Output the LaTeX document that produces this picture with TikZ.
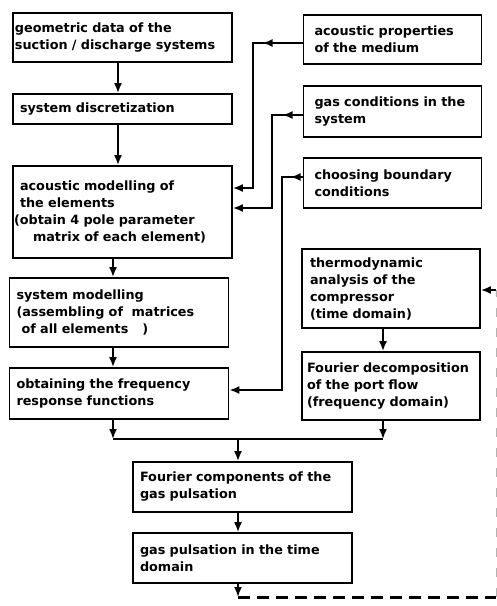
\documentclass[tikz,border=0pt]{standalone}
\usepackage{fontspec}
\setmainfont{DejaVu Sans}
\usetikzlibrary{arrows.meta,positioning,calc,decorations.markings}
\newcommand\boxfont{\bfseries\fontsize{12.8}{17}\selectfont\hyphenpenalty=10000\relax}

\begin{document}
\begin{tikzpicture}[
    x=1pt, y=-1pt,
    block/.style={rectangle, draw, line width=1.8pt, align=left, inner xsep=7pt, inner ysep=2pt,
                  font=\boxfont},
    wide/.style={block, text width=205pt},
    narrow/.style={block, inner xsep=5pt, text width=168pt},
    arrow/.style={-{Latex[length=10pt,width=8pt]}, line width=1.8pt},
    headat/.style={postaction={decorate}, decoration={markings,
                   mark=at position #1 with {\arrow{Latex[length=10pt,width=8pt]}}}}
]
\useasboundingbox (0,0) rectangle (497,606);

% Main chain (left)
\node[wide, inner xsep=2pt, text width=215pt, minimum height=49pt] (geo) at (122.5,37.5)
    {geometric data of the\\suction / discharge systems};
\node[wide, minimum height=30pt] (discr) at (122.5,109) {system discretization};
\node[wide, minimum height=92pt] (acmod) at (122.5,212)
    {acoustic modelling of\\the elements\\\hspace*{-6pt}(obtain 4 pole parameter\\\hspace*{13pt}matrix of each element)};
\node[wide, minimum height=69pt] (sysmod) at (119,312.5)
    {system modelling\\(assembling of~ matrices\\\hspace*{5pt}of all elements\hspace*{14pt})};
\node[wide, minimum height=51pt] (freq) at (119,393.5) {obtaining the frequency\\response functions};

% Inputs (right)
\node[narrow, minimum height=49pt] (props) at (392.5,39.5) {\hspace*{6pt}acoustic properties\\\hspace*{6pt}of the medium};
\node[narrow, minimum height=51pt] (gascond) at (392.5,111.5) {\hspace*{6pt}gas conditions in the\\\hspace*{6pt}system};
\node[narrow, minimum height=50pt] (bound) at (392.5,183) {\hspace*{6pt}choosing boundary\\\hspace*{6pt}conditions};
\node[narrow, minimum height=79pt] (thermo) at (391,288.5)
    {\hspace*{3pt}thermodynamic\\\hspace*{3pt}analysis of the\\\hspace*{3pt}compressor\\\hspace*{3pt}(time domain)};
\node[narrow, minimum height=68pt] (fdecomp) at (391,386)
    {Fourier decomposition\\of the port flow\\(frequency domain)};

% Results
\node[wide, minimum height=50pt] (fcomp) at (242.5,487) {Fourier components of the\\gas pulsation};
\node[wide, minimum height=50pt] (pulse) at (242.5,558) {gas pulsation in the time\\domain};

% Lanes and corners
\coordinate (lane1) at (118,0);
\coordinate (jl) at (113,439);
\coordinate (jr) at (383,439);
\coordinate (jm) at (238,439);
\coordinate (k1) at (253,43);  \coordinate (m1) at (253,188);
\coordinate (k2) at (272,115); \coordinate (m2) at (272,208);
\coordinate (k3) at (282,177); \coordinate (m3) at (282,390);
\coordinate (fb1) at (238,597);
\coordinate (fb2) at (496,597);
\coordinate (fb3) at (496,290);

% Connectors
\draw[arrow] (geo.south -| lane1) -- (discr.north -| lane1);
\draw[arrow] (discr.south -| lane1) -- (acmod.north -| lane1);
\draw[arrow] (acmod.south -| jl) -- (sysmod.north -| jl);
\draw[arrow] (sysmod.south -| jl) -- (freq.north -| jl);
\draw[arrow] (thermo.south -| jr) -- (fdecomp.north -| jr);

\draw[arrow, headat=40pt] (props.west |- k1) -- (k1) |- (acmod.east |- m1);
\draw[arrow, headat=20pt] (gascond.west |- k2) -- (k2) |- (acmod.east |- m2);
\draw[arrow, headat=12pt] (bound.west |- k3) -- (k3) |- (freq.east |- m3);

\draw[arrow] (freq.south -| jl) -- (jl);
\draw[arrow] (fdecomp.south -| jr) -- (jr);
\draw[line width=1.8pt] (jl) -- (jr);
\draw[arrow] (jm) -- (fcomp.north -| jm);
\draw[arrow] (fcomp.south -| jm) -- (pulse.north -| jm);

% Feedback
\draw[arrow] (pulse.south -| jm) -- (fb1);
\draw[line width=3pt, dash pattern=on 12pt off 7pt] (fb1) -- (fb2);
\draw[gray!60, line width=1pt, dash pattern=on 9pt off 11pt] (fb2) -- (fb3);
\draw[arrow] (fb3) -- (thermo.east |- fb3);

\end{tikzpicture}
\end{document}
